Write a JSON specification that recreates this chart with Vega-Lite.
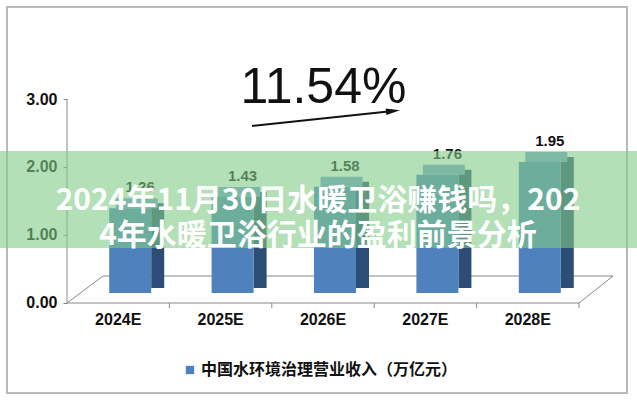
{
  "$schema": "https://vega.github.io/schema/vega-lite/v6.json",
  "width": 637,
  "height": 400,
  "autosize": "none",
  "padding": 0,
  "background": "#ffffff",
  "config": {"view": {"stroke": null}},
  "resolve": {"scale": {"x": "independent", "y": "independent"}, "axis": {"x": "independent", "y": "independent"}},
  "layer": [
    {
      "data": {"values": [{}]},
      "layer": [
        {
          "mark": {"type": "rect", "fill": null, "stroke": "#b8b8b8", "strokeWidth": 2},
          "encoding": {
            "x": {"datum": -0.586, "type": "quantitative", "scale": {"domain": [-0.6543, 5.5664], "nice": false, "zero": false}, "axis": null},
            "x2": {"datum": 5.469},
            "y": {"datum": 4.353, "type": "quantitative", "scale": {"domain": [-1.4265, 4.4559], "nice": false, "zero": false},
                  "axis": {"orient": "left", "offset": -67, "values": [0, 1, 2, 3], "format": ".2f", "domain": false, "ticks": true, "tickSize": 4, "tickColor": "#888888", "labelPadding": 6, "labelFont": "Liberation Sans", "labelFontWeight": "bold", "labelFontSize": 16, "labelColor": "#111111", "grid": false, "title": null}},
            "y2": {"datum": -1.324}
          }
        },
        {"mark": {"type": "rule", "color": "#888888", "strokeWidth": 1}, "encoding": {"x": {"datum": 0, "type": "quantitative"}, "y": {"datum": 0, "type": "quantitative"}, "y2": {"datum": 3}}},
        {"mark": {"type": "rule", "color": "#888888", "strokeWidth": 1}, "encoding": {"x": {"datum": 0, "type": "quantitative"}, "x2": {"datum": 5}, "y": {"datum": 0, "type": "quantitative"}, "y2": {"datum": 0}}},
        {"mark": {"type": "rule", "color": "#888888", "strokeWidth": 1}, "encoding": {"x": {"datum": 0.3516, "type": "quantitative"}, "x2": {"datum": 5.332}, "y": {"datum": 0.397, "type": "quantitative"}, "y2": {"datum": 0.397}}},
        {"mark": {"type": "rule", "color": "#888888", "strokeWidth": 1}, "encoding": {"x": {"datum": 0, "type": "quantitative"}, "x2": {"datum": 0.3516}, "y": {"datum": 0, "type": "quantitative"}, "y2": {"datum": 0.397}}},
        {"mark": {"type": "rule", "color": "#888888", "strokeWidth": 1}, "encoding": {"x": {"datum": 5, "type": "quantitative"}, "x2": {"datum": 5.332}, "y": {"datum": 0, "type": "quantitative"}, "y2": {"datum": 0.397}}},
        {"mark": {"type": "rule", "color": "#888888", "strokeWidth": 1}, "encoding": {"x": {"datum": 1, "type": "quantitative"}, "y": {"datum": 0, "type": "quantitative"}, "y2": {"datum": -0.074}}},
        {"mark": {"type": "rule", "color": "#888888", "strokeWidth": 1}, "encoding": {"x": {"datum": 2, "type": "quantitative"}, "y": {"datum": 0, "type": "quantitative"}, "y2": {"datum": -0.074}}},
        {"mark": {"type": "rule", "color": "#888888", "strokeWidth": 1}, "encoding": {"x": {"datum": 3, "type": "quantitative"}, "y": {"datum": 0, "type": "quantitative"}, "y2": {"datum": -0.074}}},
        {"mark": {"type": "rule", "color": "#888888", "strokeWidth": 1}, "encoding": {"x": {"datum": 4, "type": "quantitative"}, "y": {"datum": 0, "type": "quantitative"}, "y2": {"datum": -0.074}}},
        {"mark": {"type": "rule", "color": "#888888", "strokeWidth": 1}, "encoding": {"x": {"datum": 5, "type": "quantitative"}, "y": {"datum": 0, "type": "quantitative"}, "y2": {"datum": -0.074}}}
      ]
    },
    {
      "data": {"values": [
        {"year": "2024E", "value": 1.26, "series": "中国水环境治理营业收入（万亿元）"},
        {"year": "2025E", "value": 1.43, "series": "中国水环境治理营业收入（万亿元）"},
        {"year": "2026E", "value": 1.58, "series": "中国水环境治理营业收入（万亿元）"},
        {"year": "2027E", "value": 1.76, "series": "中国水环境治理营业收入（万亿元）"},
        {"year": "2028E", "value": 1.95, "series": "中国水环境治理营业收入（万亿元）"}
      ]},
      "encoding": {
        "x": {"field": "year", "type": "nominal", "sort": null,
              "scale": {"paddingInner": 0, "paddingOuter": 0.6104, "align": 0.536},
              "axis": {"orient": "bottom", "offset": -95, "domain": false, "ticks": false, "tickSize": 0, "labelPadding": 6, "labelAngle": 0, "labelFont": "Liberation Sans", "labelFontWeight": "bold", "labelFontSize": 16, "labelColor": "#111111", "title": null}},
        "y": {"field": "value", "type": "quantitative", "scale": {"domain": [-1.592, 4.36], "nice": false, "zero": false}, "axis": null}
      },
      "layer": [
        {
          "mark": {"type": "bar", "width": 13, "xOffset": 39.5, "yOffset": -5, "y2Offset": -5, "color": "#2c4d75"},
          "encoding": {"y2": {"datum": 0}}
        },
        {
          "mark": {"type": "bar", "width": 42, "xOffset": 18.5, "yOffset": -10, "color": "#7a9fd4"},
          "encoding": {"y2": {"field": "value"}}
        },
        {
          "mark": {"type": "bar", "width": 42, "xOffset": 12},
          "encoding": {
            "y2": {"datum": 0},
            "color": {"field": "series", "type": "nominal", "scale": {"range": ["#4f81bd"]},
                      "legend": {"orient": "none", "legendX": 182, "legendY": 362, "title": null, "symbolType": "square", "symbolSize": 70, "symbolStrokeWidth": 0, "labelFont": "Noto Sans CJK SC", "labelFontWeight": "bold", "labelFontSize": 16, "labelColor": "#111111", "labelLimit": 400, "labelOffset": 3, "padding": 0}}
          }
        },
        {
          "mark": {"type": "text", "dx": 22, "dy": -21, "baseline": "middle", "font": "Liberation Sans", "fontWeight": "bold", "fontSize": 15, "color": "#111111"},
          "encoding": {"text": {"field": "value", "type": "quantitative", "format": ".2f"}}
        }
      ]
    },
    {
      "data": {"values": [{"title": ["2024年11月30日水暖卫浴赚钱吗，202", "4年水暖卫浴行业的盈利前景分析"], "cagr": "11.54%"}]},
      "layer": [
        {
          "mark": {"type": "rect", "color": "#80cb86", "opacity": 0.6},
          "encoding": {
            "x": {"datum": -0.6543, "type": "quantitative", "scale": {"domain": [-0.6543, 5.5664], "nice": false, "zero": false}, "axis": null},
            "x2": {"datum": 5.5664},
            "y": {"datum": 2.235, "type": "quantitative", "scale": {"domain": [-1.4265, 4.4559], "nice": false, "zero": false}, "axis": null},
            "y2": {"datum": 0.809}
          }
        },
        {
          "mark": {"type": "text", "align": "center", "baseline": "middle", "font": "Noto Sans CJK SC", "fontWeight": "bold", "fontSize": 30, "lineHeight": 35, "color": "#ffffff"},
          "encoding": {
            "x": {"datum": 2.451, "type": "quantitative"},
            "y": {"datum": 1.507, "type": "quantitative"},
            "text": {"field": "title"}
          }
        },
        {
          "mark": {"type": "text", "align": "center", "baseline": "alphabetic", "font": "Liberation Sans", "fontSize": 50, "color": "#111111"},
          "encoding": {
            "x": {"datum": 2.505, "type": "quantitative"},
            "y": {"datum": 2.941, "type": "quantitative"},
            "text": {"field": "cagr"}
          }
        },
        {
          "mark": {"type": "rule", "color": "#111111", "strokeWidth": 2},
          "encoding": {
            "x": {"datum": 1.807, "type": "quantitative"},
            "x2": {"datum": 3.184},
            "y": {"datum": 2.603, "type": "quantitative"},
            "y2": {"datum": 2.824}
          }
        },
        {
          "mark": {"type": "point", "shape": "M -1 -0.45 L 1 0 L -1 0.45 Z", "size": 200, "filled": true, "color": "#111111", "opacity": 1, "angle": -6.2},
          "encoding": {
            "x": {"datum": 3.184, "type": "quantitative"},
            "y": {"datum": 2.824, "type": "quantitative"}
          }
        }
      ]
    }
  ]
}
